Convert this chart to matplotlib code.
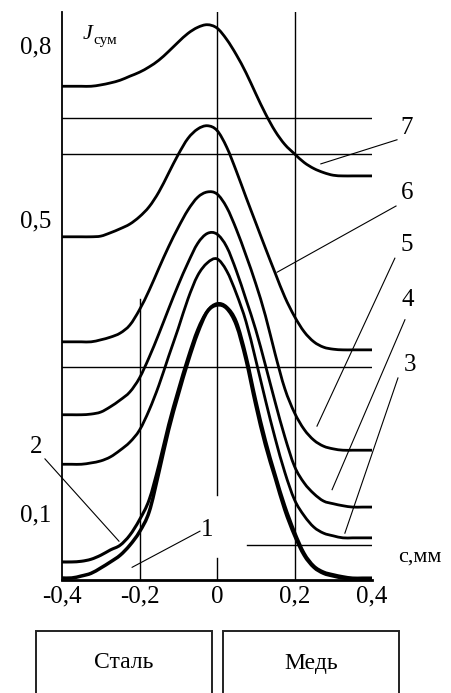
import numpy as np
import matplotlib
matplotlib.use("Agg")
import matplotlib.pyplot as plt
from matplotlib.patches import Rectangle, PathPatch
from matplotlib.path import Path

plt.rcParams['font.family'] = ['Liberation Serif', 'DejaVu Serif']

# ---- data ----
x_mm = [-0.4, -0.375, -0.35, -0.325, -0.3, -0.275, -0.25, -0.225, -0.2, -0.175,
        -0.15, -0.125, -0.1, -0.075, -0.05, -0.025, 0.0, 0.025, 0.05, 0.075,
        0.1, 0.125, 0.15, 0.175, 0.2, 0.225, 0.25, 0.275, 0.3, 0.325,
        0.35, 0.375, 0.4]

curve1 = [0.003, 0.003, 0.006, 0.010, 0.018, 0.027, 0.037, 0.052, 0.072, 0.102,
          0.161, 0.224, 0.277, 0.326, 0.369, 0.401, 0.411, 0.406, 0.381, 0.329,
          0.262, 0.202, 0.153, 0.105, 0.067, 0.037, 0.019, 0.010, 0.006, 0.003,
          0.0015, 0.0015, 0.0015]
curve2 = [0.027, 0.027, 0.028, 0.031, 0.037, 0.045, 0.052, 0.067, 0.090, 0.120,
          0.172, 0.232, 0.284, 0.332, 0.374, 0.402, 0.413, 0.408, 0.386, 0.335,
          0.269, 0.209, 0.158, 0.111, 0.072, 0.040, 0.021, 0.012, 0.008, 0.005,
          0.003, 0.003, 0.003]
curve3 = [0.173, 0.173, 0.173, 0.175, 0.178, 0.184, 0.194, 0.206, 0.224, 0.254,
          0.291, 0.334, 0.376, 0.420, 0.455, 0.474, 0.480, 0.462, 0.428, 0.386,
          0.329, 0.269, 0.212, 0.161, 0.120, 0.096, 0.079, 0.070, 0.066, 0.063,
          0.063, 0.063, 0.063]
curve4 = [0.247, 0.247, 0.247, 0.248, 0.251, 0.259, 0.269, 0.281, 0.302, 0.333,
          0.368, 0.405, 0.441, 0.474, 0.503, 0.518, 0.517, 0.498, 0.462, 0.419,
          0.374, 0.321, 0.266, 0.214, 0.170, 0.145, 0.129, 0.118, 0.114, 0.111,
          0.109, 0.109, 0.109]
curve5 = [0.356, 0.356, 0.356, 0.356, 0.359, 0.363, 0.369, 0.381, 0.404, 0.433,
          0.466, 0.498, 0.527, 0.553, 0.572, 0.580, 0.577, 0.557, 0.524, 0.485,
          0.443, 0.395, 0.338, 0.286, 0.250, 0.225, 0.209, 0.200, 0.196, 0.194,
          0.194, 0.194, 0.194]
curve6 = [0.513, 0.513, 0.513, 0.513, 0.514, 0.519, 0.525, 0.532, 0.543, 0.558,
          0.580, 0.608, 0.636, 0.660, 0.674, 0.679, 0.672, 0.647, 0.611, 0.572,
          0.534, 0.496, 0.459, 0.423, 0.394, 0.371, 0.356, 0.348, 0.345, 0.344,
          0.344, 0.344, 0.344]
curve7 = [0.738, 0.738, 0.738, 0.738, 0.740, 0.743, 0.747, 0.753, 0.759, 0.767,
          0.777, 0.790, 0.804, 0.817, 0.826, 0.830, 0.825, 0.808, 0.785, 0.758,
          0.727, 0.697, 0.671, 0.651, 0.637, 0.624, 0.615, 0.609, 0.605, 0.604,
          0.604, 0.604, 0.604]

x_ticks = [-0.4, -0.2, 0.0, 0.2, 0.4]
x_tick_labels = ['-0,4', '-0,2', '0', '0,2', '0,4']
y_ticks = [0.1, 0.54, 0.8]
y_tick_labels = ['0,1', '0,5', '0,8']
curve_labels = ['1', '2', '3', '4', '5', '6', '7']
materials = ['Сталь', 'Медь']


def smooth_path(xs, ys):
    """Bezier path passing through every data point (Catmull-Rom tangents)."""
    p = np.column_stack([xs, ys]).astype(float)
    n = len(p)
    verts = [p[0]]
    codes = [Path.MOVETO]
    for i in range(n - 1):
        p0 = p[i - 1] if i > 0 else p[i]
        p1, p2 = p[i], p[i + 1]
        p3 = p[i + 2] if i + 2 < n else p[i + 1]
        c1 = p1 + (p2 - p0) / 6.0
        c2 = p2 - (p3 - p1) / 6.0
        verts += [c1, c2, p2]
        codes += [Path.CURVE4] * 3
    return Path(verts, codes)


# ---- figure ----
W, H = 451, 693
fig = plt.figure(figsize=(W / 100, H / 100), dpi=100)
ax = fig.add_axes([62 / W, (H - 580) / H, 310 / W, 568 / H])
ax.set_xlim(-0.4, 0.4)
ax.set_ylim(0, 0.849)

for s in ['top', 'right']:
    ax.spines[s].set_visible(False)
ax.spines['left'].set_linewidth(1.3)
ax.spines['bottom'].set_linewidth(2.0)

# reference lines
ax.plot([0.2, 0.2], [0, 0.849], color='black', lw=1.0)
ax.plot([0.0, 0.0], [0.127, 0.849], color='black', lw=1.0)
ax.plot([0.0, 0.0], [0.0, 0.033], color='black', lw=1.0)
ax.plot([-0.2, -0.2], [0, 0.42], color='black', lw=1.0)
for yl in [0.6906, 0.6368, 0.3184]:
    ax.plot([-0.4, 0.4], [yl, yl], color='black', lw=1.0)
ax.plot([0.077, 0.4], [0.0523, 0.0523], color='black', lw=1.0)

# curves
series = [curve1, curve2, curve3, curve4, curve5, curve6, curve7]
widths = [2.5, 2.2, 2.0, 2.0, 2.0, 2.0, 2.0]
for ys, lw in zip(series, widths):
    patch = PathPatch(smooth_path(x_mm, ys), facecolor='none', edgecolor='black',
                      lw=lw, capstyle='butt', joinstyle='round', clip_on=False)
    ax.add_patch(patch)

# ticks
ax.set_xticks(x_ticks)
ax.set_xticklabels(x_tick_labels)
ax.set_yticks(y_ticks)
ax.set_yticklabels(y_tick_labels)
ax.tick_params(axis='both', length=0, labelsize=18)
ax.tick_params(axis='x', pad=4)
ax.tick_params(axis='y', pad=8)

# leader lines and curve numbers
leaders = {
    '7': ((0.490, 0.676), (0.4645, 0.658), (0.268, 0.622)),
    '6': ((0.490, 0.578), (0.462, 0.559), (0.155, 0.460)),
    '5': ((0.490, 0.501), (0.459, 0.481), (0.258, 0.230)),
    '4': ((0.493, 0.419), (0.485, 0.389), (0.297, 0.135)),
    '3': ((0.498, 0.321), (0.467, 0.302), (0.330, 0.070)),
    '2': ((-0.467, 0.199), (-0.444, 0.181), (-0.253, 0.058)),
    '1': ((-0.026, 0.075), (-0.044, 0.073), (-0.219, 0.019)),
}
for lab in curve_labels:
    (tx, ty), (x0, y0), (x1, y1) = leaders[lab]
    ax.plot([x0, x1], [y0, y1], color='black', lw=0.8, clip_on=False)
    ax.text(tx, ty, lab, fontsize=18, ha='center', va='center', clip_on=False)

ax.text(0.524, 0.034, 'с,мм', fontsize=16, ha='center', va='center')
ax.text(-0.346, 0.816, 'J', fontsize=16, style='italic', ha='left', va='center')
ax.text(-0.318, 0.806, 'сум', fontsize=11, ha='left', va='center')

# material boxes
boxes = [(36, 212), (223, 399)]
for (x0, x1), name in zip(boxes, materials):
    fig.add_artist(Rectangle((x0 / W, -0.05), (x1 - x0) / W, (H - 631) / H + 0.05,
                             transform=fig.transFigure, fill=False,
                             edgecolor='#222222', lw=1.4))
    fig.text((x0 + x1) / 2 / W, (H - 663) / H, name, fontsize=17,
             ha='center', va='center')

fig.savefig('out.png', dpi=100)
